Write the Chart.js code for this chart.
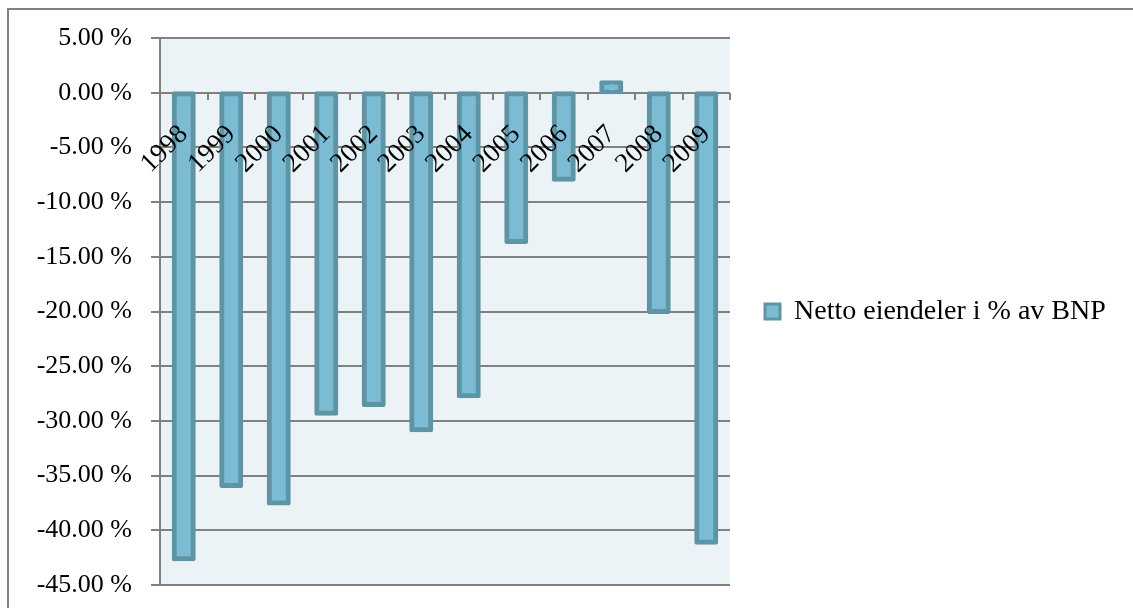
<!DOCTYPE html>
<html>
<head>
<meta charset="utf-8">
<script src="https://cdn.jsdelivr.net/npm/chart.js@4/dist/chart.umd.min.js"></script>
<style>
  html, body { margin: 0; padding: 0; background: #ffffff; overflow: hidden; }
  #wrap { position: relative; width: 1133px; height: 608px; }
  #frame { position: absolute; left: 7px; top: 8px; width: 1200px; height: 700px;
           border: 2px solid #808080; box-sizing: border-box; pointer-events: none; }
</style>
</head>
<body>
<div id="wrap">
  <canvas id="c" width="1133" height="608"></canvas>
  <div id="frame"></div>
</div>
<script>
// Netto eiendeler (net assets) as share of BNP, per year
const years = ['1998', '1999', '2000', '2001', '2002', '2003', '2004', '2005', '2006', '2007', '2008', '2009'];
const nettoEiendeler = [-42.6, -35.9, -37.5, -29.3, -28.5, -30.8, -27.7, -13.6, -7.9, 0.9, -20.0, -41.1];
const seriesLabel = 'Netto eiendeler i % av BNP';
const yTickValues = [5, 0, -5, -10, -15, -20, -25, -30, -35, -40, -45];

const FONT = 'Liberation Serif';
const GRID = '#808080';

// light tinted background behind the plot
const plotBackground = {
  id: 'plotBackground',
  beforeDraw(chart) {
    const { ctx, chartArea: { left, top, right, bottom } } = chart;
    ctx.save();
    ctx.fillStyle = '#ebf3f6';
    ctx.fillRect(left, top, right - left, bottom - top);
    ctx.restore();
  }
};

const chart = new Chart(document.getElementById('c'), {
  type: 'bar',
  data: {
    labels: years,
    datasets: [{
      label: seriesLabel,
      data: nettoEiendeler,
      backgroundColor: '#7bbcd4',
      borderColor: '#5f94a4',
      borderWidth: 5,
      borderSkipped: false,
      borderRadius: 2,
      inflateAmount: 2.5,
      barPercentage: 0.4,
      categoryPercentage: 1.0
    }]
  },
  options: {
    responsive: false,
    animation: false,
    events: [],
    layout: { padding: { left: 0, top: 38, right: 20, bottom: 23 } },
    scales: {
      x: {
        position: { y: 0 },
        offset: true,
        grid: { offset: true, drawOnChartArea: false, drawTicks: true, tickLength: 7, color: GRID, lineWidth: 2 },
        border: { display: false },
        ticks: {
          z: 1,
          minRotation: 45, maxRotation: 45, autoSkip: false, padding: 19,
          color: '#000000', font: { family: FONT, size: 27 }
        }
      },
      y: {
        min: -45, max: 5,
        afterBuildTicks(scale) { scale.ticks = yTickValues.map(v => ({ value: v })); },
        afterFit(scale) {
          scale.width = 160;
          scale.paddingTop = 0;
          scale.paddingBottom = 0;
        },
        grid: { color: GRID, lineWidth: 2, tickLength: 9, drawTicks: true },
        border: { display: true, color: GRID, width: 2 },
        ticks: {
          padding: 19, color: '#000000', font: { family: FONT, size: 26 },
          callback: v => v.toFixed(2) + ' %'
        }
      }
    },
    plugins: {
      tooltip: { enabled: false },
      legend: {
        position: 'right',
        align: 'center',
        maxWidth: 600,
        labels: {
          boxWidth: 15, boxHeight: 15, padding: 35, color: '#000000',
          font: { family: FONT, size: 28 },
          generateLabels(ch) {
            const items = Chart.defaults.plugins.legend.labels.generateLabels(ch);
            items.forEach(it => { it.lineWidth = 3; });
            return items;
          }
        }
      }
    }
  },
  plugins: [plotBackground]
});

// keep the plot's right edge at 730 px by trimming the outer right padding
const shift = chart.chartArea.right - 730;
if (Math.abs(shift) > 0.5) {
  chart.options.layout.padding.right = Math.max(0, chart.options.layout.padding.right + shift);
  chart.update('none');
}
</script>
</body>
</html>
